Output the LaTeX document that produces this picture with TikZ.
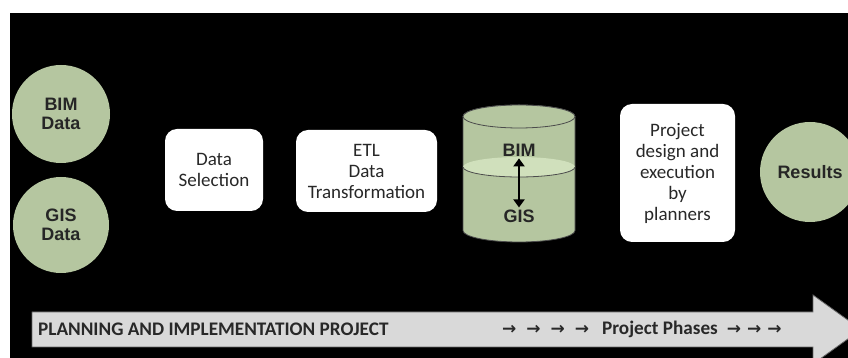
\documentclass[tikz,border=0pt]{standalone}
\usepackage{fontspec}
\setmainfont{Carlito}
\newfontfamily\heavyfont{Liberation Sans}
\newfontfamily\symfont{DejaVu Sans}
\usetikzlibrary{arrows.meta}
\definecolor{sage}{RGB}{181,198,160}
\definecolor{sagelight}{RGB}{208,224,188}
\definecolor{bargrey}{RGB}{217,217,217}
\definecolor{inkgrey}{RGB}{40,40,40}
\newcommand{\phasearrows}[2]{{\symfont\bfseries\fontsize{17}{21}\selectfont
  →\foreach \k in {2,...,#1}{\hspace{#2}→}}}
\tikzset{
  datacircle/.style={circle,fill=sage,inner sep=0pt,minimum size=#1,align=center,
    font=\heavyfont\bfseries\fontsize{18}{19}\selectfont,text=black!85},
  stepbox/.style={fill=white,rounded corners=12pt,align=center,inner sep=0pt,
    font=\fontsize{19}{21}\selectfont,text=inkgrey},
  dblabel/.style={inner sep=2pt,font=\heavyfont\bfseries\fontsize{18}{19}\selectfont,text=black!85},
  bartext/.style={anchor=west,inner sep=0pt,font=\bfseries\fontsize{19.2}{21}\selectfont,text=inkgrey}
}

\begin{document}
\begin{tikzpicture}[x=1pt,y=1pt]
    \clip (0,0) rectangle (848,358);
    \fill[white] (0,0) rectangle (848,358);
    \fill[black] (10,0) rectangle (848,345);
    \node[datacircle=98pt] (bim) at (61,244) {BIM\\Data};
    \node[datacircle=96pt] (gis) at (61,133) {GIS\\Data};
    \node[stepbox,minimum width=98pt,minimum height=82pt] (select) at (214,188) {Data\\Selection};
    \node[stepbox,minimum width=141pt,minimum height=82pt] (etl) at (366.5,187) {ETL\\Data\\Transformation};
    % database
    \draw[fill=sage,draw=black!70,line width=0.8pt] (463,241.5) -- (463,127.5) arc (180:360:56 and 11.5)
        -- (575,241.5) arc (0:180:56 and 11.5) -- cycle;
    \draw[fill=sage,draw=black!70,line width=0.8pt] (519,241.5) ellipse (56 and 11.5);
    \fill[sagelight] (519,191) ellipse (56 and 10);
    \draw[black!70,line width=0.8pt] (463,191) arc (180:360:56 and 10);
    \node[dblabel] (bimdb) at (519,208) {BIM};
    \node[dblabel] (gisdb) at (519,142) {GIS};
    \draw[{Triangle[width=11pt,length=8pt]}-{Triangle[width=11pt,length=8pt]},line width=2.5pt] (bimdb.south) -- (gisdb.north);
    \node[stepbox,minimum width=115pt,minimum height=138pt] (design) at (677.5,185) {Project\\design and\\execution\\by\\planners};
    \node[datacircle=100pt] (results) at (810,186) {Results};
    % phase arrow
    \draw[fill=bargrey,draw=black!60,line width=0.8pt] (32,46) -- (813,46) -- (813,63) -- (861,28.5)
        -- (813,-6) -- (813,11) -- (32,11) -- cycle;
    \node[bartext] (plan) at (38,28.5) {PLANNING AND IMPLEMENTATION PROJECT};
    \node[bartext] (phases) at (502,28.5) {\phasearrows{4}{10pt}\hspace{13pt}Project Phases\hspace{9pt}\phasearrows{3}{6pt}};
\end{tikzpicture}
\end{document}
